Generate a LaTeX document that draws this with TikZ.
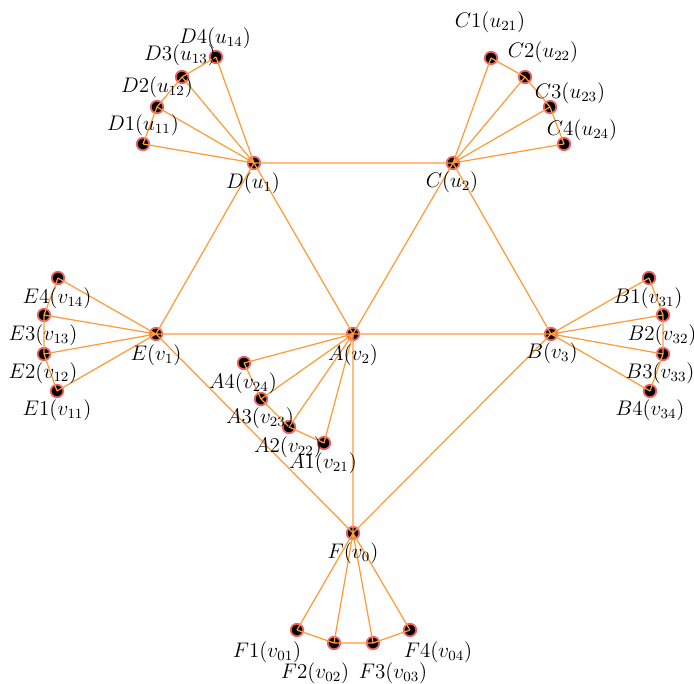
\documentclass[tikz,border=0pt]{standalone}
\usepackage{amsmath,amssymb}
\usepackage{tikz}
\definecolor{linkorange}{RGB}{255,155,55}
\definecolor{ringred}{RGB}{240,95,95}
\tikzset{vert/.style={circle, fill=black, draw=ringred, line width=1pt, minimum size=2.5mm, inner sep=0pt},
  link/.style={draw=linkorange, line width=0.7pt},
  lbl/.style={inner sep=0pt, font=\large}}

\begin{document}
\begin{tikzpicture}[x=0.2mm, y=-0.2mm]
  \useasboundingbox (0, 0) rectangle (694, 684);
  % centre vertices
  \node[vert] (d) at (254, 163) {};
  \node[vert] (c) at (453, 163) {};
  \node[vert] (e) at (156, 334) {};
  \node[vert] (a) at (353, 334) {};
  \node[vert] (b) at (551, 334) {};
  \node[vert] (f) at (353, 533) {};
  % leaves
  \node[vert] (d1) at (143, 144) {};
  \node[vert] (d2) at (157, 107) {};
  \node[vert] (d3) at (182, 77) {};
  \node[vert] (d4) at (216, 57) {};
  \node[vert] (c1) at (491, 58) {};
  \node[vert] (c2) at (525, 77) {};
  \node[vert] (c3) at (550, 107) {};
  \node[vert] (c4) at (564, 144) {};
  \node[vert] (e1) at (57, 391) {};
  \node[vert] (e2) at (44, 354) {};
  \node[vert] (e3) at (44, 315) {};
  \node[vert] (e4) at (58, 278) {};
  \node[vert] (a1) at (324, 443) {};
  \node[vert] (a2) at (289, 427) {};
  \node[vert] (a3) at (261, 399) {};
  \node[vert] (a4) at (244, 363) {};
  \node[vert] (b1) at (649, 278) {};
  \node[vert] (b2) at (663, 315) {};
  \node[vert] (b3) at (663, 354) {};
  \node[vert] (b4) at (650, 391) {};
  \node[vert] (f1) at (297, 630) {};
  \node[vert] (f2) at (334, 643) {};
  \node[vert] (f3) at (373, 643) {};
  \node[vert] (f4) at (410, 630) {};

  \draw[link] (d.center) -- (c.center) (d.center) -- (e.center) (d.center) -- (a.center)
    (c.center) -- (a.center) (c.center) -- (b.center) (e.center) -- (a.center)
    (a.center) -- (b.center) (e.center) -- (f.center) (a.center) -- (f.center)
    (b.center) -- (f.center);
  \draw[link] (d.center) -- (d1.center) (d.center) -- (d2.center) (d.center) -- (d3.center)
    (d.center) -- (d4.center) (d1.center) -- (d2.center) -- (d3.center) -- (d4.center);
  \draw[link] (c.center) -- (c1.center) (c.center) -- (c2.center) (c.center) -- (c3.center)
    (c.center) -- (c4.center) (c1.center) -- (c2.center) -- (c3.center) -- (c4.center);
  \draw[link] (e.center) -- (e1.center) (e.center) -- (e2.center) (e.center) -- (e3.center)
    (e.center) -- (e4.center) (e1.center) -- (e2.center) -- (e3.center) -- (e4.center);
  \draw[link] (a.center) -- (a1.center) (a.center) -- (a2.center) (a.center) -- (a3.center)
    (a.center) -- (a4.center) (a1.center) -- (a2.center) -- (a3.center) -- (a4.center);
  \draw[link] (b.center) -- (b1.center) (b.center) -- (b2.center) (b.center) -- (b3.center)
    (b.center) -- (b4.center) (b1.center) -- (b2.center) -- (b3.center) -- (b4.center);
  \draw[link] (f.center) -- (f1.center) (f.center) -- (f2.center) (f.center) -- (f3.center)
    (f.center) -- (f4.center) (f1.center) -- (f2.center) -- (f3.center) -- (f4.center);

  % labels
  \node[lbl] (dl) at (253, 183) {$D(u_1)$};
  \node[lbl] (cl) at (452, 182) {$C(u_2)$};
  \node[lbl] (el) at (156, 355) {$E(v_1)$};
  \node[lbl] (al) at (353, 355) {$A(v_2)$};
  \node[lbl] (bl) at (552, 353) {$B(v_3)$};
  \node[lbl] (fl) at (353, 553) {$F(v_0)$};
  \node[lbl] (d1l) at (143, 125) {$D1(u_{11})$};
  \node[lbl] (d2l) at (157, 87) {$D2(u_{12})$};
  \node[lbl] (d3l) at (180, 55) {$D3(u_{13})$};
  \node[lbl] (d4l) at (215, 38) {$D4(u_{14})$};
  \node[lbl] (c1l) at (490, 22) {$C1(u_{21})$};
  \node[lbl] (c2l) at (543, 52) {$C2(u_{22})$};
  \node[lbl] (c3l) at (570, 93) {$C3(u_{23})$};
  \node[lbl] (c4l) at (582, 130) {$C4(u_{24})$};
  \node[lbl] (e1l) at (57, 410) {$E1(v_{11})$};
  \node[lbl] (e2l) at (43, 373) {$E2(v_{12})$};
  \node[lbl] (e3l) at (43, 335) {$E3(v_{13})$};
  \node[lbl] (e4l) at (57, 298) {$E4(v_{14})$};
  \node[lbl] (a1l) at (323, 463) {$A1(v_{21})$};
  \node[lbl] (a2l) at (288, 447) {$A2(v_{22})$};
  \node[lbl] (a3l) at (260, 418) {$A3(v_{23})$};
  \node[lbl] (a4l) at (243, 383) {$A4(v_{24})$};
  \node[lbl] (b1l) at (648, 298) {$B1(v_{31})$};
  \node[lbl] (b2l) at (662, 335) {$B2(v_{32})$};
  \node[lbl] (b3l) at (660, 373) {$B3(v_{33})$};
  \node[lbl] (b4l) at (650, 410) {$B4(v_{34})$};
  \node[lbl] (f1l) at (267, 652) {$F1(v_{01})$};
  \node[lbl] (f2l) at (315, 673) {$F2(v_{02})$};
  \node[lbl] (f3l) at (393, 673) {$F3(v_{03})$};
  \node[lbl] (f4l) at (438, 652) {$F4(v_{04})$};
\end{tikzpicture}
\end{document}
